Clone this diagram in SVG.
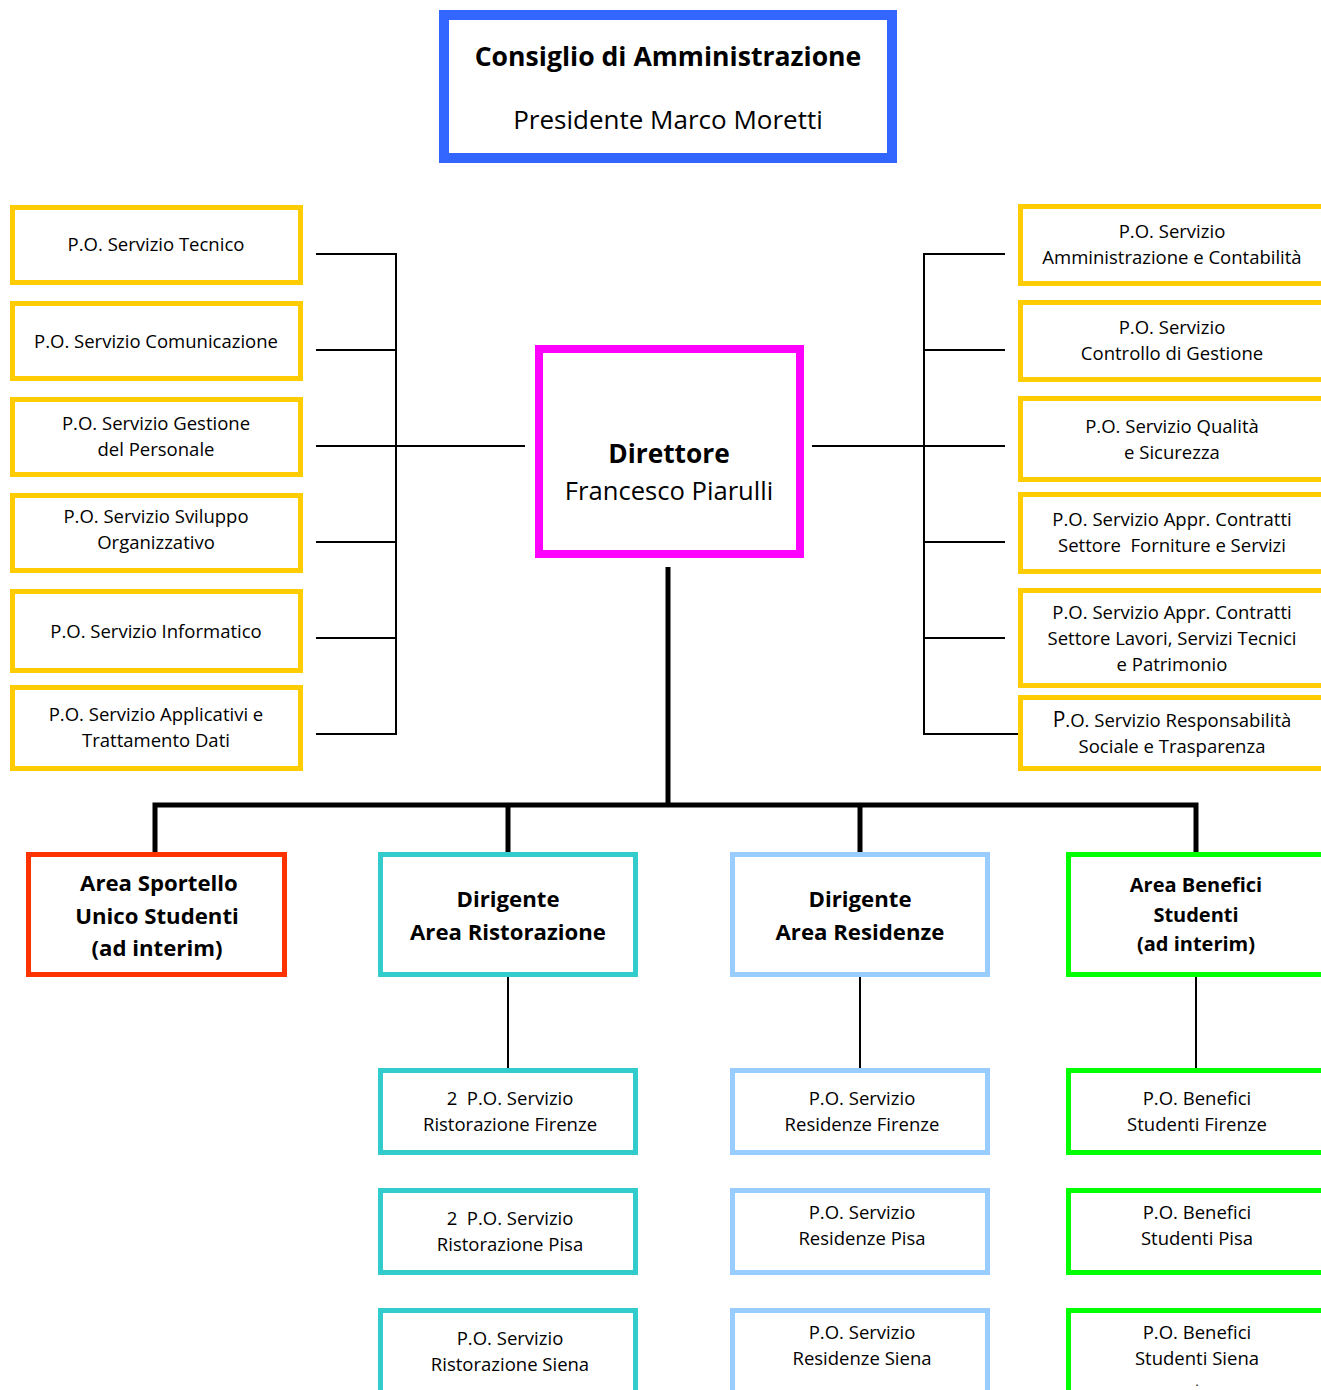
<svg xmlns="http://www.w3.org/2000/svg" width="1321" height="1390" viewBox="0 0 1321 1390">
<style>
text{font-family:"Open Sans","Noto Sans","Liberation Sans",sans-serif;fill:#000;text-anchor:middle}
.po{font-size:18.5px}
.pre{white-space:pre}
.b1{font-size:22.2px;font-weight:bold}
.b2{font-size:20px;font-weight:bold}
rect{fill:#fff}
.y{stroke:#FFCC00;stroke-width:5}
.r{stroke:#FF3300;stroke-width:5}
.t{stroke:#33CCCC;stroke-width:5}
.lb{stroke:#99CCFF;stroke-width:5}
.g{stroke:#00FF00;stroke-width:5}
.thin{stroke:#000;stroke-width:2;fill:none}
.thick{stroke:#000;stroke-width:5;fill:none}
</style>
<rect width="1321" height="1390" fill="#fff"/>
<g id="connectors">
<path class="thin" d="M316 254H396V734H316M316 350H396M316 446H525M316 542H396M316 638H396"/>
<path class="thin" d="M1005 254H924V734H1020M1005 350H924M812 446H1005M1005 542H924M1005 638H924"/>
<path class="thick" d="M668 567V805M155 853V805H1196V853M508 805V853M860 805V853"/>
<path class="thin" d="M508 977V1070M860 977V1070M1196 977V1070"/>
</g>
<g id="cda">
<rect x="444" y="15" width="448" height="143" stroke="#3366FF" stroke-width="10"/>
<text x="668" y="66" style="font-size:26.6px;font-weight:bold">Consiglio di Amministrazione</text>
<text x="668" y="129" style="font-size:26px">Presidente Marco Moretti</text>
</g>
<g id="direttore">
<rect x="539" y="349" width="261" height="205" stroke="#FF00FF" stroke-width="8"/>
<text x="669" y="463" style="font-size:26.3px;font-weight:bold">Direttore</text>
<text x="669" y="500" style="font-size:25.6px">Francesco Piarulli</text>
</g>
<g id="po-tecnico"><rect class="y" x="12.5" y="207.5" width="288" height="75"/><text class="po" x="156" y="251">P.O. Servizio Tecnico</text></g>
<g id="po-comunicazione"><rect class="y" x="12.5" y="303.5" width="288" height="75"/><text class="po" x="156" y="348">P.O. Servizio Comunicazione</text></g>
<g id="po-personale"><rect class="y" x="12.5" y="399.5" width="288" height="75"/><text class="po" x="156" y="430">P.O. Servizio Gestione</text><text class="po" x="156" y="456">del Personale</text></g>
<g id="po-sviluppo"><rect class="y" x="12.5" y="495.5" width="288" height="75"/><text class="po" x="156" y="523">P.O. Servizio Sviluppo</text><text class="po" x="156" y="549">Organizzativo</text></g>
<g id="po-informatico"><rect class="y" x="12.5" y="591.5" width="288" height="79"/><text class="po" x="156" y="638">P.O. Servizio Informatico</text></g>
<g id="po-applicativi"><rect class="y" x="12.5" y="687.5" width="288" height="81"/><text class="po" x="156" y="721">P.O. Servizio Applicativi e</text><text class="po" x="156" y="747">Trattamento Dati</text></g>
<g id="po-amministrazione"><rect class="y" x="1020.5" y="206.5" width="310" height="77"/><text class="po" x="1172" y="238">P.O. Servizio</text><text class="po" x="1172" y="264">Amministrazione e Contabilità</text></g>
<g id="po-controllo"><rect class="y" x="1020.5" y="302.5" width="310" height="77"/><text class="po" x="1172" y="334">P.O. Servizio</text><text class="po" x="1172" y="360">Controllo di Gestione</text></g>
<g id="po-qualita"><rect class="y" x="1020.5" y="398.5" width="310" height="81"/><text class="po" x="1172" y="433">P.O. Servizio Qualità</text><text class="po" x="1172" y="459">e Sicurezza</text></g>
<g id="po-forniture"><rect class="y" x="1020.5" y="494.5" width="310" height="77"/><text class="po" x="1172" y="526">P.O. Servizio Appr. Contratti</text><text class="po pre" x="1172" y="552">Settore  Forniture e Servizi</text></g>
<g id="po-lavori"><rect class="y" x="1020.5" y="590.5" width="310" height="95"/><text class="po" x="1172" y="619">P.O. Servizio Appr. Contratti</text><text class="po" x="1172" y="645">Settore Lavori, Servizi Tecnici</text><text class="po" x="1172" y="671">e Patrimonio</text></g>
<g id="po-responsabilita"><rect class="y" x="1020.5" y="697.5" width="310" height="71"/><text class="po" x="1172" y="727"><tspan style="font-size:21px">P</tspan>.O. Servizio Responsabilità</text><text class="po" x="1172" y="753">Sociale e Trasparenza</text></g>
<g id="area-sportello"><rect class="r" x="28.5" y="854.5" width="256" height="120"/><text class="b1" x="159" y="891">Area Sportello</text><text class="b1" x="157" y="924">Unico Studenti</text><text class="b1" x="157" y="956">(ad interim)</text></g>
<g id="area-ristorazione"><rect class="t" x="380.5" y="854.5" width="255" height="120"/><text class="b1" x="508" y="907">Dirigente</text><text class="b1" x="508" y="940">Area Ristorazione</text></g>
<g id="area-residenze"><rect class="lb" x="732.5" y="854.5" width="255" height="120"/><text class="b1" x="860" y="907">Dirigente</text><text class="b1" x="860" y="940">Area Residenze</text></g>
<g id="area-benefici"><rect class="g" x="1068.5" y="854.5" width="270" height="120"/><text class="b2" x="1196" y="892">Area Benefici</text><text class="b2" x="1196" y="922">Studenti</text><text class="b2" x="1196" y="951">(ad interim)</text></g>
<g id="ristorazione-firenze"><rect class="t" x="380.5" y="1070.5" width="255" height="82"/><text class="po pre" x="510" y="1105">2  P.O. Servizio</text><text class="po" x="510" y="1131">Ristorazione Firenze</text></g>
<g id="ristorazione-pisa"><rect class="t" x="380.5" y="1190.5" width="255" height="82"/><text class="po pre" x="510" y="1225">2  P.O. Servizio</text><text class="po" x="510" y="1251">Ristorazione Pisa</text></g>
<g id="ristorazione-siena"><rect class="t" x="380.5" y="1310.5" width="255" height="100"/><text class="po" x="510" y="1345">P.O. Servizio</text><text class="po" x="510" y="1371">Ristorazione Siena</text></g>
<g id="residenze-firenze"><rect class="lb" x="732.5" y="1070.5" width="255" height="82"/><text class="po" x="862" y="1105">P.O. Servizio</text><text class="po" x="862" y="1131">Residenze Firenze</text></g>
<g id="residenze-pisa"><rect class="lb" x="732.5" y="1190.5" width="255" height="82"/><text class="po" x="862" y="1219">P.O. Servizio</text><text class="po" x="862" y="1245">Residenze Pisa</text></g>
<g id="residenze-siena"><rect class="lb" x="732.5" y="1310.5" width="255" height="100"/><text class="po" x="862" y="1339">P.O. Servizio</text><text class="po" x="862" y="1365">Residenze Siena</text></g>
<g id="benefici-firenze"><rect class="g" x="1068.5" y="1070.5" width="270" height="82"/><text class="po" x="1197" y="1105">P.O. Benefici</text><text class="po" x="1197" y="1131">Studenti Firenze</text></g>
<g id="benefici-pisa"><rect class="g" x="1068.5" y="1190.5" width="270" height="82"/><text class="po" x="1197" y="1219">P.O. Benefici</text><text class="po" x="1197" y="1245">Studenti Pisa</text></g>
<g id="benefici-siena"><rect class="g" x="1068.5" y="1310.5" width="270" height="100"/><text class="po" x="1197" y="1339">P.O. Benefici</text><text class="po" x="1197" y="1365">Studenti Siena</text><text x="1197" y="1386" style="font-size:12px">.</text></g>
</svg>
